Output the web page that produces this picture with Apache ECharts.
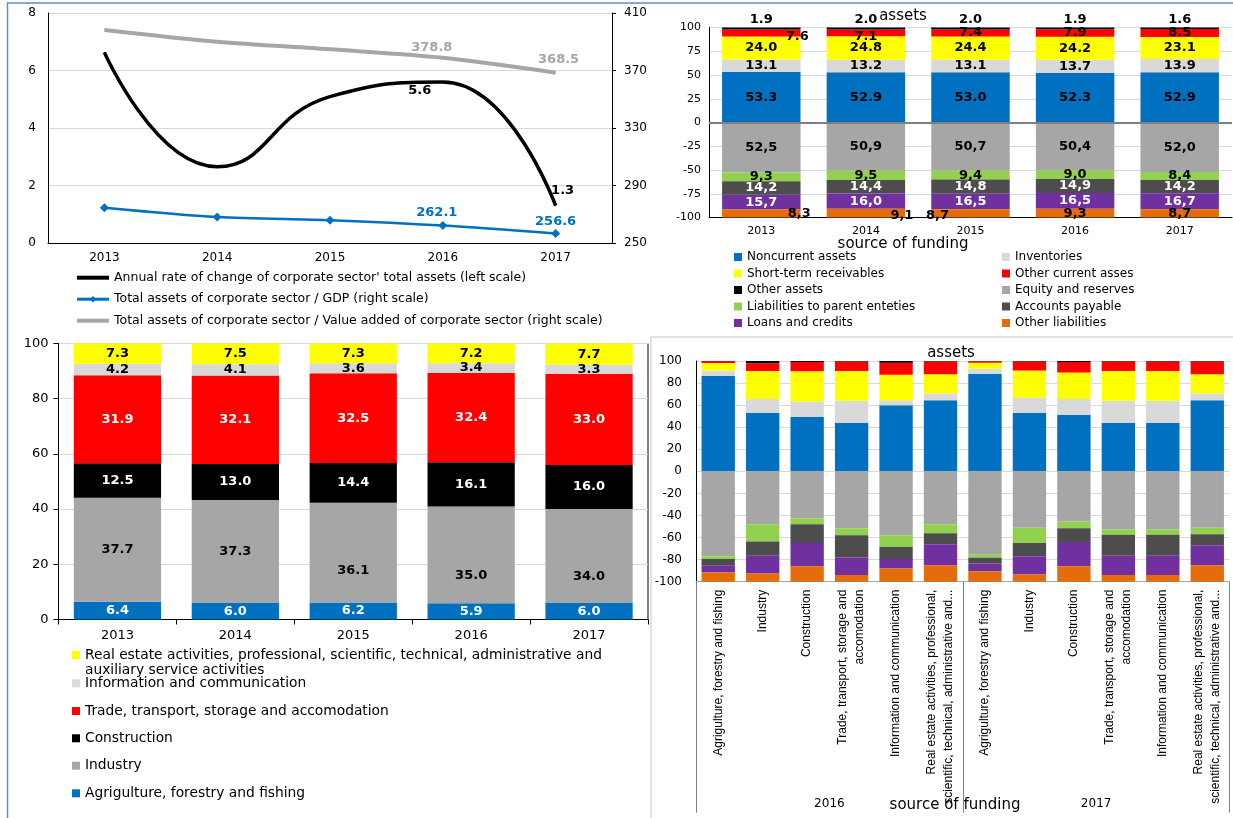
<!DOCTYPE html>
<html><head><meta charset="utf-8">
<script src="https://cdn.jsdelivr.net/npm/echarts@6/dist/echarts.min.js"></script>
<style>html,body{margin:0;padding:0;background:#fff}#c{width:1233px;height:818px}</style>
</head><body><div id="c"></div>
<script>
// ---------- Panel 1 (lines) ----------
const years = ['2013', '2014', '2015', '2016', '2017'];
const annualChange = [6.63, 2.65, 5.09, 5.6, 1.3];
const assetsToGDP = [274.6, 268.1, 265.8, 262.1, 256.6];
const assetsToVA = [398.2, 390.0, 384.7, 378.8, 368.5];
const lineNames = [
  "Annual rate of change of corporate sector' total assets (left scale)",
  'Total assets of corporate sector / GDP (right scale)',
  'Total assets of corporate sector / Value added of corporate sector (right scale)'
];

// ---------- Panel 2 (assets / source of funding by year, %) ----------
const noncurrent = [53.3, 52.9, 53.0, 52.3, 52.9];
const inventories = [13.1, 13.2, 13.1, 13.7, 13.9];
const receivables = [24.0, 24.8, 24.4, 24.2, 23.1];
const otherCurrent = [7.6, 7.1, 7.4, 7.9, 8.5];
const otherAssets = [1.9, 2.0, 2.0, 1.9, 1.6];
const equity = [52.5, 50.9, 50.7, 50.4, 52.0];
const parentLiab = [9.3, 9.5, 9.4, 9.0, 8.4];
const payable = [14.2, 14.4, 14.8, 14.9, 14.2];
const loans = [15.7, 16.0, 16.5, 16.5, 16.7];
const otherLiab = [8.3, 9.1, 8.7, 9.3, 8.7];

// ---------- Panel 3 (structure by sector, %) ----------
const agriculture = [6.4, 6.0, 6.2, 5.9, 6.0];
const industry = [37.7, 37.3, 36.1, 35.0, 34.0];
const construction = [12.5, 13.0, 14.4, 16.1, 16.0];
const trade = [31.9, 32.1, 32.5, 32.4, 33.0];
const infoComm = [4.2, 4.1, 3.6, 3.4, 3.3];
const realEstate = [7.3, 7.5, 7.3, 7.2, 7.7];

// ---------- Panel 4 (by sector, 2016 and 2017) ----------
const p4Years = ['2016', '2017'];
const sectors = ['Agrigulture, forestry and fishing', 'Industry', 'Construction',
  'Trade, transport, storage and accomodation', 'Information and communication',
  'Real estate activities, professional, scientific, technical, administrative and auxiliary service activities'];
const s_noncurrent = [86.5, 53, 49.5, 44, 60, 64.5, 88.5, 53, 51, 44, 44, 64.5];
const s_inventories = [5, 12.5, 13.8, 20, 4.5, 6, 4.5, 13.8, 14.5, 20, 20, 6];
const s_receivables = [6.8, 25.5, 27.5, 27, 23, 17.5, 5.5, 24.7, 24, 27, 27, 17.5];
const s_otherCurrent = [1.7, 7, 8.2, 8.5, 11, 11.5, 1.3, 8, 9.5, 8.5, 8.5, 11.5];
const s_otherAssets = [0, 2, 1, 0.5, 1.5, 0.5, 0.2, 0.5, 1, 0.5, 0.5, 0.5];
const s_equity = [77, 48, 42.5, 51.5, 58, 48, 75.5, 51, 45.5, 52.5, 52.5, 51];
const s_parentLiab = [2.5, 15.5, 5.5, 6.5, 10.5, 8, 2.8, 14, 6, 5, 5, 6];
const s_payable = [6, 13, 17, 20, 11, 10, 5.2, 12, 12.5, 19, 19, 10];
const s_loans = [6, 16, 21, 16, 8.5, 19, 7, 16.5, 22, 17.5, 17.5, 18];
const s_otherLiab = [8.5, 7.5, 14, 6, 12, 15, 9.5, 6.5, 14, 6, 6, 15];

// ================= build =================
const F = 'DejaVu Sans';
const C = {blue:'#0070C0', lgrey:'#D9D9D9', yellow:'#FFFF00', red:'#FF0000', black:'#000000',
  grey:'#A6A6A6', green:'#92D050', dgrey:'#4D4D4D', purple:'#7030A0', orange:'#E46C0A'};
const GRID = '#D9D9D9';

function withLabels(values, cfg) {
  return values.map((v, i) => cfg[i] ? {value: v, label: Object.assign({show: true}, cfg[i])} : v);
}

// Panel 1 label placements
const blackLbl = {3: {position: 'bottom', offset: [-23, -3]}, 4: {position: 'top', offset: [7, -3]}};
const blueLbl = {3: {position: 'top', offset: [-6, 3]}, 4: {position: 'top', offset: [0, 4]}};
const greyLbl = {3: {position: 'top', offset: [-11, 2]}, 4: {position: 'top', offset: [3, -1]}};
const lblFont = {fontSize: 13, fontWeight: 'bold', fontFamily: F};

const series = [
  {name: lineNames[0], type: 'line', xAxisIndex: 0, yAxisIndex: 0, smooth: 0.5,
   symbol: 'circle', symbolSize: 1, data: withLabels(annualChange, blackLbl),
   lineStyle: {color: '#000', width: 3.5}, itemStyle: {color: '#000'},
   label: Object.assign({show: false, color: '#000'}, lblFont)},
  {name: lineNames[1], type: 'line', xAxisIndex: 0, yAxisIndex: 1, smooth: 0.3,
   symbol: 'diamond', symbolSize: 9, data: withLabels(assetsToGDP, blueLbl),
   lineStyle: {color: C.blue, width: 2.5}, itemStyle: {color: C.blue},
   label: Object.assign({show: false, color: C.blue}, lblFont)},
  {name: lineNames[2], type: 'line', xAxisIndex: 0, yAxisIndex: 1, smooth: 0.3,
   symbol: 'circle', symbolSize: 1, data: withLabels(assetsToVA, greyLbl),
   lineStyle: {color: C.grey, width: 4}, itemStyle: {color: C.grey},
   label: Object.assign({show: false, color: C.grey}, lblFont)}
];

// Panel 2 & 4 series definitions
const fundDefs = [
  ['Noncurrent assets', noncurrent, s_noncurrent, C.blue, '#000', 1],
  ['Inventories', inventories, s_inventories, C.lgrey, '#000', 1],
  ['Short-term receivables', receivables, s_receivables, C.yellow, '#000', 1],
  ['Other current asses', otherCurrent, s_otherCurrent, C.red, '#000', 1],
  ['Other assets', otherAssets, s_otherAssets, C.black, '#000', 1],
  ['Equity and reserves', equity, s_equity, C.grey, '#000', -1],
  ['Liabilities to parent enteties', parentLiab, s_parentLiab, C.green, '#000', -1],
  ['Accounts payable', payable, s_payable, C.dgrey, '#fff', -1],
  ['Loans and credits', loans, s_loans, C.purple, '#fff', -1],
  ['Other liabilities', otherLiab, s_otherLiab, C.orange, '#000', -1]
];
const p2Offsets = {
  'Other current asses': {0: [36, 4], 1: [0, 4]},
  'Other liabilities': {0: [38, 0], 1: [36, 3], 2: [-33, 2]}
};
fundDefs.forEach(([name, vals, svals, color, tcol, sign]) => {
  const offs = p2Offsets[name] || {};
  series.push({
    name, type: 'bar', stack: 'p2', xAxisIndex: 1, yAxisIndex: 2, barCategoryGap: '25%',
    data: vals.map((v, i) => offs[i] ? {value: sign * v, label: {offset: offs[i]}} : sign * v),
    itemStyle: {color},
    label: Object.assign({show: true, position: name === 'Other assets' ? 'top' : 'inside',
      distance: 1, color: tcol,
      formatter: p => sign > 0 ? Math.abs(p.value).toFixed(1) : Math.abs(p.value).toFixed(1).replace('.', ',')}, lblFont)
  });
});
// zero line panel 2
series[3].markLine = {silent: true, symbol: 'none', label: {show: false},
  lineStyle: {color: '#7F7F7F', width: 2, type: 'solid'}, data: [{yAxis: 0}]};

// Panel 3
const secDefs = [
  ['Agrigulture, forestry and fishing', agriculture, C.blue, '#fff'],
  ['Industry', industry, C.grey, '#000'],
  ['Construction', construction, C.black, '#fff'],
  ['Trade, transport, storage and accomodation', trade, C.red, '#fff'],
  ['Information and communication', infoComm, C.lgrey, '#000'],
  ['Real estate activities, professional, scientific, technical, administrative and auxiliary service activities', realEstate, C.yellow, '#000']
];
const p3Offsets = {'Industry': {2: [0, 18], 3: [0, 21], 4: [0, 21]}};
secDefs.forEach(([name, vals, color, tcol]) => {
  const offs = p3Offsets[name] || {};
  series.push({
    name, type: 'bar', stack: 'p3', xAxisIndex: 2, yAxisIndex: 3, barCategoryGap: '26%',
    data: vals.map((v, i) => offs[i] ? {value: v, label: {offset: offs[i]}} : v),
    itemStyle: {color},
    label: Object.assign({show: true, position: 'inside', color: tcol,
      formatter: p => p.value.toFixed(1)}, lblFont)
  });
});

// Panel 4
const p4Cats = [];
p4Years.forEach(y => sectors.forEach(s => p4Cats.push(y + '|' + s)));
const p4Wrap = {
  'Trade, transport, storage and accomodation': 'Trade, transport, storage and\naccomodation',
  'Real estate activities, professional, scientific, technical, administrative and auxiliary service activities':
    'Real estate activities, professional,\nscientific, technical, administrative and...'
};
fundDefs.forEach(([name, vals, svals, color, tcol, sign]) => {
  series.push({
    name, type: 'bar', stack: 'p4', xAxisIndex: 3, yAxisIndex: 4, barCategoryGap: '25%',
    data: svals.map(v => sign * v), itemStyle: {color}, label: {show: false}
  });
});

const axLbl = (size, margin) => ({color: '#000', fontSize: size, fontFamily: F, margin});
const blackLine = {show: true, onZero: false, lineStyle: {color: '#000', width: 1}};

const legBase = {orient: 'vertical', padding: 0, icon: 'rect', itemWidth: 8, itemHeight: 8};
const p3Legend = [
  [secDefs[5][0], 655, true], [secDefs[4][0], 683.3], [secDefs[3][0], 711],
  [secDefs[2][0], 738.3], [secDefs[1][0], 765.7], [secDefs[0][0], 793.3]
].map(([name, cy, two]) => Object.assign({}, legBase, {
  left: 72, top: two ? cy - 23.55 : cy - 7.85, data: [name],
  formatter: two ? '\nReal estate activities, professional, scientific, technical, administrative and\nauxiliary service activities' : '{name}',
  textStyle: {fontSize: 13.8, lineHeight: 15.7, color: '#000', fontFamily: F}
}));

const option = {
  animation: false,
  backgroundColor: '#fff',
  textStyle: {fontFamily: F},
  grid: [
    {left: 48, top: 13, width: 564, height: 230, containLabel: false, outerBoundsMode: 'none'},
    {left: 709, top: 27.5, width: 523, height: 190, containLabel: false, outerBoundsMode: 'none'},
    {left: 58.5, top: 343.5, width: 589.5, height: 276, containLabel: false, outerBoundsMode: 'none',
     show: true, borderColor: '#000', borderWidth: 1, backgroundColor: 'transparent'},
    {left: 696, top: 361, width: 533.5, height: 220.7, containLabel: false, outerBoundsMode: 'none'},
    // year-group band under panel 4 (separators + year labels)
    {left: 696, top: 581.7, width: 533.5, height: 231, containLabel: false, outerBoundsMode: 'none'}
  ],
  xAxis: [
    {gridIndex: 0, type: 'category', data: years, axisLine: blackLine, axisTick: {show: false},
     axisLabel: axLbl(12, 9), splitLine: {show: false}},
    {gridIndex: 1, type: 'category', data: years, axisLine: blackLine, axisTick: {show: false},
     axisLabel: axLbl(11, 8), splitLine: {show: false}},
    {gridIndex: 2, type: 'category', data: years, axisLine: blackLine,
     axisTick: {show: true, length: 5, lineStyle: {color: '#000'}}, axisLabel: axLbl(13, 10), splitLine: {show: false}},
    {gridIndex: 3, type: 'category', data: p4Cats, axisLine: {show: true, onZero: false, lineStyle: {color: '#A6A6A6'}},
     axisTick: {show: false}, splitLine: {show: false},
     axisLabel: {interval: 0, rotate: 90, color: '#000', fontSize: 12, fontFamily: 'Liberation Sans', lineHeight: 17, margin: 8,
       formatter: v => { const s = v.split('|')[1]; return p4Wrap[s] || s; }}},
    {gridIndex: 4, type: 'category', data: p4Years, position: 'bottom', axisLine: {show: false},
     axisTick: {show: false}, splitLine: {show: true, interval: 0, lineStyle: {color: '#7F7F7F', width: 1}},
     axisLabel: Object.assign(axLbl(12, 3), {inside: true})}
  ],
  yAxis: [
    {gridIndex: 0, type: 'value', min: 0, max: 8, interval: 2, axisLine: blackLine, axisTick: {show: false},
     splitLine: {show: true, lineStyle: {color: GRID}}, axisLabel: axLbl(12, 12)},
    {gridIndex: 0, type: 'value', position: 'right', min: 250, max: 410, interval: 40, axisLine: blackLine,
     axisTick: {show: true, length: 4, lineStyle: {color: '#000'}}, splitLine: {show: false}, axisLabel: axLbl(12, 12)},
    {gridIndex: 1, type: 'value', min: -100, max: 100, interval: 25, axisLine: blackLine, axisTick: {show: false},
     splitLine: {show: true, lineStyle: {color: GRID}}, axisLabel: axLbl(11, 8)},
    {gridIndex: 2, type: 'value', min: 0, max: 100, interval: 20, axisLine: blackLine,
     axisTick: {show: true, length: 5, lineStyle: {color: '#000'}},
     splitLine: {show: true, lineStyle: {color: GRID}}, axisLabel: axLbl(13, 10)},
    {gridIndex: 3, type: 'value', min: -100, max: 100, interval: 20, axisLine: blackLine, axisTick: {show: false},
     splitLine: {show: true, lineStyle: {color: GRID}}, axisLabel: axLbl(12, 14)},
    {gridIndex: 4, type: 'value', show: false, min: 0, max: 1, splitLine: {show: false}}
  ],
  legend: [
    {orient: 'vertical', left: 75, top: 270.7, padding: 0, itemWidth: 32, itemHeight: 8, itemGap: 7.5,
     textStyle: {fontSize: 12.5, lineHeight: 14, color: '#000', fontFamily: F},
     lineStyle: {width: 4},
     data: [{name: lineNames[0], itemStyle: {opacity: 0}}, {name: lineNames[1], lineStyle: {width: 3}},
            {name: lineNames[2], itemStyle: {opacity: 0}}]},
    Object.assign({}, legBase, {left: 734, top: 250, itemGap: 2.5,
     textStyle: {fontSize: 12, lineHeight: 14, color: '#000', fontFamily: F},
     data: [fundDefs[0][0], fundDefs[2][0], fundDefs[4][0], fundDefs[6][0], fundDefs[8][0]]}),
    Object.assign({}, legBase, {left: 1002, top: 250, itemGap: 2.5,
     textStyle: {fontSize: 12, lineHeight: 14, color: '#000', fontFamily: F},
     data: [fundDefs[1][0], fundDefs[3][0], fundDefs[5][0], fundDefs[7][0], fundDefs[9][0]]})
  ].concat(p3Legend),
  graphic: [
    {type: 'rect', silent: true, z: -1, shape: {x: 7.5, y: 3, width: 1300, height: 900},
     style: {fill: 'none', stroke: '#5B8FD0', lineWidth: 1.5}},
    {type: 'rect', silent: true, z: -1, shape: {x: 651, y: 337, width: 700, height: 600},
     style: {fill: 'none', stroke: '#D9D9D9', lineWidth: 1.5}},
    {type: 'text', x: 903, y: 16, silent: true, style: {text: 'assets', fontSize: 15, fontFamily: F, fill: '#000', align: 'center', verticalAlign: 'middle'}},
    {type: 'text', x: 903, y: 244, silent: true, style: {text: 'source of funding', fontSize: 15, fontFamily: F, fill: '#000', align: 'center', verticalAlign: 'middle'}},
    {type: 'text', x: 951, y: 353, silent: true, style: {text: 'assets', fontSize: 15, fontFamily: F, fill: '#000', align: 'center', verticalAlign: 'middle'}},
    {type: 'text', x: 955, y: 805, silent: true, style: {text: 'source of funding', fontSize: 15, fontFamily: F, fill: '#000', align: 'center', verticalAlign: 'middle'}}
  ],
  series
};
const chart = echarts.init(document.getElementById('c'), null, {renderer: 'canvas'});
chart.setOption(option);
</script></body></html>
